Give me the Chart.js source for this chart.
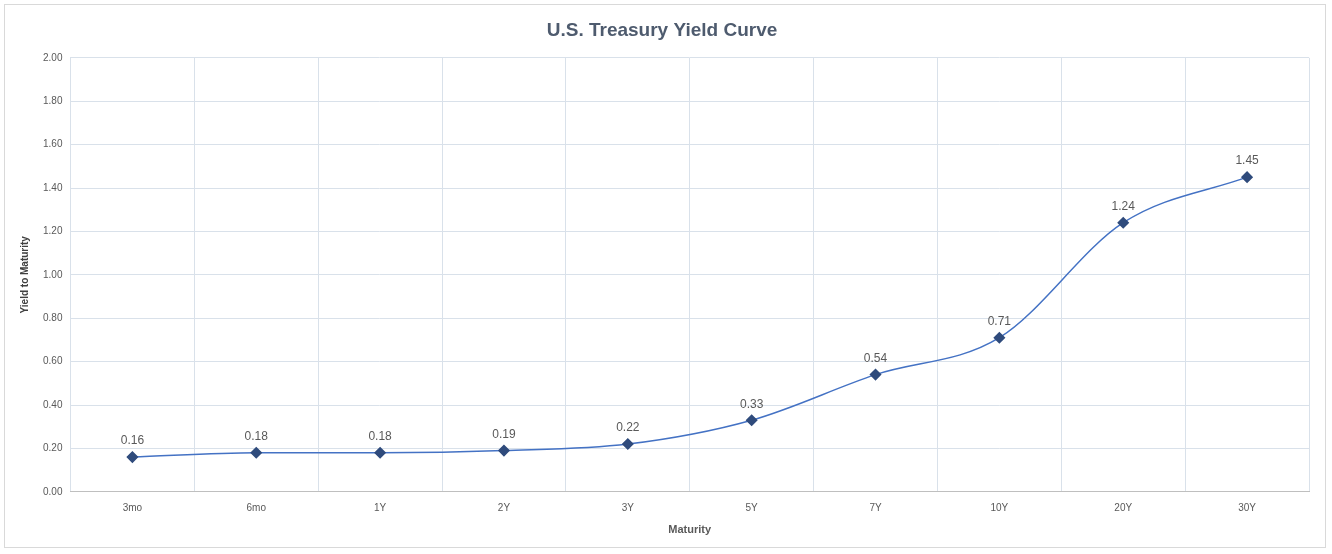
<!DOCTYPE html>
<html><head><meta charset="utf-8">
<script src="https://cdn.jsdelivr.net/npm/chart.js@4/dist/chart.umd.min.js"></script>
<style>
html,body{margin:0;padding:0;background:#fff;}
#wrap{position:absolute;left:4px;top:4px;width:1322px;height:544px;border:1px solid #d9d9d9;box-sizing:border-box;}
</style></head><body>
<div id="wrap"><canvas id="c" width="1320" height="542"></canvas></div>
<script>
// Maturities and yields
const maturities = ['3mo', '6mo', '1Y', '2Y', '3Y', '5Y', '7Y', '10Y', '20Y', '30Y'];
const yields = [0.16, 0.18, 0.18, 0.19, 0.22, 0.33, 0.54, 0.71, 1.24, 1.45];

// Value labels above each point
const valueLabels = {
  id: 'valueLabels',
  afterDatasetsDraw(chart) {
    const { ctx } = chart;
    const meta = chart.getDatasetMeta(0);
    ctx.save();
    ctx.font = '12px "Liberation Sans", sans-serif';
    ctx.fillStyle = '#595959';
    ctx.textAlign = 'center';
    ctx.textBaseline = 'bottom';
    meta.data.forEach((pt, i) => {
      ctx.fillText(yields[i].toFixed(2), pt.x, pt.y - 10);
    });
    ctx.restore();
  }
};

new Chart(document.getElementById('c'), {
  type: 'line',
  data: {
    labels: maturities,
    datasets: [{
      data: yields,
      borderColor: '#4472c4',
      borderWidth: 1.5,
      tension: 0.4,
      cubicInterpolationMode: 'monotone',
      pointStyle: 'rectRot',
      pointRadius: 5,
      pointBackgroundColor: '#2f4b7c',
      pointBorderColor: '#2f4b7c',
      fill: false
    }]
  },
  options: {
    responsive: false,
    animation: false,
    layout: { padding: { left: 10, right: 16, top: 6, bottom: 6 } },
    plugins: {
      legend: { display: false },
      tooltip: { enabled: false },
      title: {
        display: true,
        text: 'U.S. Treasury Yield Curve',
        color: '#4e5b6e',
        font: { size: 19, weight: 'bold', family: '"Liberation Sans", sans-serif' },
        padding: { top: 8, bottom: 16 }
      }
    },
    scales: {
      x: {
        offset: true,
        grid: { offset: true, color: '#d9e1ea', drawTicks: false },
        border: { color: '#bfbfbf' },
        ticks: { color: '#595959', font: { size: 10 }, padding: 10 },
        title: { display: true, text: 'Maturity', color: '#595959', font: { size: 11, weight: 'bold' }, padding: { top: 0 } }
      },
      y: {
        min: 0, max: 2,
        ticks: { stepSize: 0.2, color: '#595959', font: { size: 10 }, padding: 8, callback: v => v.toFixed(2) },
        grid: { color: '#d9e1ea', drawTicks: false },
        border: { display: false },
        title: { display: true, text: 'Yield to Maturity', color: '#404040', font: { size: 10, weight: 'bold' } }
      }
    }
  },
  plugins: [valueLabels]
});
</script>
</body></html>
